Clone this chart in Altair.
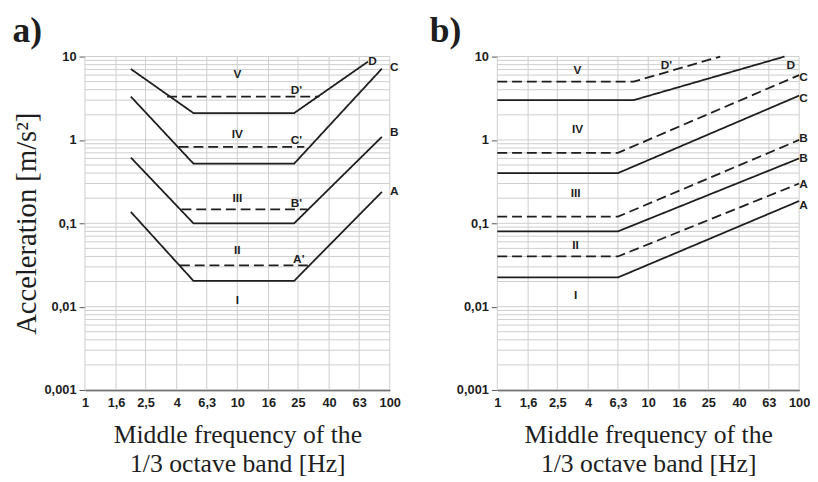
import altair as alt
import pandas as pd

# ---------------- data ----------------
x_ticks = [1, 1.6, 2.5, 4, 6.3, 10, 16, 25, 40, 63, 100]
y_ticks = [0.001, 0.01, 0.1, 1, 10]
y_grid = [0.001, 0.002, 0.003, 0.004, 0.005, 0.006, 0.007, 0.008, 0.009,
          0.01, 0.02, 0.03, 0.04, 0.05, 0.06, 0.07, 0.08, 0.09,
          0.1, 0.2, 0.3, 0.4, 0.5, 0.6, 0.7, 0.8, 0.9,
          1, 2, 3, 4, 5, 6, 7, 8, 9, 10]

# panel a) lines
a_names = ["A", "B", "C", "D", "A'", "B'", "C'", "D'"]
a_styles = ["solid", "solid", "solid", "solid", "dashed", "dashed", "dashed", "dashed"]
a_freqs = [
    [2, 5.15, 23.6, 88.8],
    [2, 5.15, 23.6, 88.8],
    [2, 5.15, 23.6, 88.8],
    [2, 5.15, 23.6, 72],
    [4.2, 29.0],
    [4.3, 28.9],
    [4.12, 27.5],
    [3.46, 34.5],
]
a_values = [
    [0.137, 0.0204, 0.0204, 0.238],
    [0.615, 0.1, 0.1, 1.09],
    [3.31, 0.52, 0.52, 7.17],
    [7.1, 2.1, 2.1, 8.7],
    [0.0313, 0.0313],
    [0.147, 0.147],
    [0.824, 0.824],
    [3.3, 3.3],
]
a_label_text = ["V", "IV", "III", "II", "I", "D'", "C'", "B'", "A'", "D", "C", "B", "A"]
a_label_f = [10, 10, 10, 10, 10, 24.4, 24.4, 24.4, 25.3, 77, 107, 107, 107]
a_label_v = [6.1, 1.18, 0.2, 0.048, 0.012, 4.0, 1.0, 0.175, 0.037, 8.8, 7.5, 1.25, 0.243]

# panel b) lines
b_names = ["A", "A'", "B", "B'", "C", "C'", "D", "D'"]
b_styles = ["solid", "dashed", "solid", "dashed", "solid", "dashed", "solid", "dashed"]
b_freqs = [
    [1, 6.3, 100],
    [1, 6.3, 100],
    [1, 6.3, 100],
    [1, 6.3, 100],
    [1, 6.3, 100],
    [1, 6.3, 100],
    [1, 8, 80],
    [1, 8, 30],
]
b_values = [
    [0.0224, 0.0224, 0.185],
    [0.04, 0.04, 0.3],
    [0.08, 0.08, 0.6],
    [0.12, 0.12, 1.0],
    [0.4, 0.4, 3.4],
    [0.7, 0.7, 6.0],
    [3, 3, 10],
    [5, 5, 10],
]
b_label_text = ["V", "IV", "III", "II", "I", "D'", "D", "C", "C", "B", "B", "A", "A"]
b_label_f = [3.4, 3.4, 3.3, 3.3, 3.3, 13.2, 88, 107, 107, 107, 107, 107, 107]
b_label_v = [6.86, 1.34, 0.233, 0.055, 0.0139, 8.0, 8.0, 5.7, 3.16, 1.06, 0.605, 0.292, 0.165]

# ---------------- helpers ----------------
SANS = "Liberation Sans"
SERIF = "Liberation Serif"
INK = "#1e1e1e"
GRID = "#cdcdcd"
XTITLE = ["Middle frequency of the", "1/3 octave band [Hz]"]


def lines_df(names, styles, freqs, values):
    rows = []
    for n, s, fs, vs in zip(names, styles, freqs, values):
        for i, (f, v) in enumerate(zip(fs, vs)):
            rows.append({"series": n, "style": s, "f": f, "v": v, "order": i})
    return pd.DataFrame(rows)


xscale = alt.Scale(type="log", domain=[1, 100], nice=False)
yscale = alt.Scale(type="log", domain=[0.001, 10], nice=False)

label_expr = "replace(format(datum.value, '~g'), '.', ',')"

yaxis = alt.Axis(
    values=y_ticks, labelExpr=label_expr, grid=False, domain=False,
    ticks=True, tickSize=6, tickColor="#555", tickWidth=1,
    labelFont=SANS, labelFontWeight="bold", labelFontSize=13,
    labelColor=INK, labelPadding=3,
    titleFont=SERIF, titleFontSize=29, titleFontWeight="normal",
    titleColor=INK, titlePadding=3,
)
xaxis = alt.Axis(
    values=x_ticks, labelExpr=label_expr, grid=False, domain=True,
    domainColor=INK, domainWidth=1.6, ticks=False,
    labelFont=SANS, labelFontWeight="bold", labelFontSize=13,
    labelColor=INK, labelPadding=7, labelFlush=False,
    labelOverlap=False,
    titleFont=SERIF, titleFontSize=26, titleFontWeight="normal",
    titleColor=INK, titlePadding=12, titleLineHeight=30,
)


def panel(names, styles, freqs, values, lt, lf, lv, ytitle, title, title_dx, w):
    df = lines_df(names, styles, freqs, values)
    X = lambda fld: alt.X(fld, scale=xscale, axis=xaxis, title=XTITLE)
    Y = lambda fld: alt.Y(fld, scale=yscale, axis=yaxis, title=ytitle)
    gy = alt.Chart(pd.DataFrame({"v": y_grid})).mark_rule(
        color=GRID, strokeWidth=1
    ).encode(y=Y("v:Q"))
    gx = alt.Chart(pd.DataFrame({"f": x_ticks})).mark_rule(
        color=GRID, strokeWidth=1
    ).encode(x=X("f:Q"))
    lines = alt.Chart(df).mark_line(strokeWidth=1.8, color=INK).encode(
        x=X("f:Q"),
        y=Y("v:Q"),
        detail="series:N",
        order="order:Q",
        strokeDash=alt.StrokeDash(
            "style:N",
            scale=alt.Scale(domain=["solid", "dashed"], range=[[1, 0], [10, 5]]),
            legend=None,
        ),
    )
    labels = alt.Chart(pd.DataFrame({"t": lt, "f": lf, "v": lv})).mark_text(
        font=SANS, fontWeight="bold", fontSize=12, color=INK
    ).encode(
        x=X("f:Q"),
        y=Y("v:Q"),
        text="t:N",
    )
    return alt.layer(gy, gx, lines, labels).properties(
        width=w, height=338,
        title=alt.TitleParams(
            title, anchor="start", dx=title_dx, font=SERIF, fontSize=36,
            fontWeight="bold", color=INK, offset=1,
        ),
    )


pa = panel(a_names, a_styles, a_freqs, a_values, a_label_text, a_label_f,
           a_label_v, "Acceleration [m/s²]", "a)", 0, 309)
pb = panel(b_names, b_styles, b_freqs, b_values, b_label_text, b_label_f,
           b_label_v, "", "b)", -27, 306)

chart = alt.hconcat(pa, pb, spacing=29).properties(
    padding={"left": 4, "top": 2, "right": 0, "bottom": 0}
).configure_view(strokeWidth=0)

chart.save("out.html", embed_options={"renderer": "svg", "actions": False})
